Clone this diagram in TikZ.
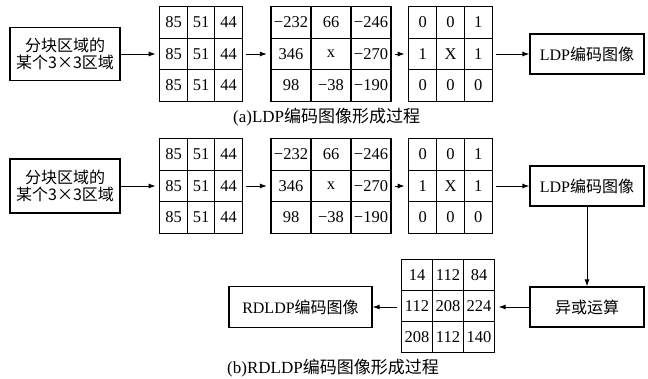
\documentclass[tikz,border=0pt]{standalone}
\usepackage{fontspec}
\setmainfont{Liberation Serif}
\newfontfamily\cjk{Noto Sans CJK SC}
\usetikzlibrary{matrix,arrows.meta}
\begin{document}
\begin{tikzpicture}[x=1pt,y=-1pt,
  box/.style={draw, line width=1.2pt, align=center, inner sep=1pt,
    font=\fontsize{16}{16.5}\selectfont},
  grid/.style={matrix of nodes, column sep=-1.1pt, row sep=-1.1pt,
    nodes={draw, line width=1.1pt, anchor=center, inner sep=0pt,
      font=\fontsize{16.5}{16.5}\selectfont}},
  arr/.style={-{Latex[length=7pt,width=5pt]}, line width=1pt},
  captext/.style={anchor=west, inner sep=0pt, font=\fontsize{17}{17}\selectfont}]
\useasboundingbox (0,0) rectangle (648,378);

% ---------- (a) ----------
\node[box, minimum width=110pt, minimum height=53pt] (srcA) at (65,54)
  {{\cjk 分块区域的}\\{\cjk 某个3×3区域}};
\matrix (m1A) at (201,54) [grid, nodes={minimum width=27.5pt, minimum height=31.5pt}] {
  85 & 51 & 44 \\
  85 & 51 & 44 \\
  85 & 51 & 44 \\};
\matrix (m2A) at (331,54) [grid, nodes={minimum width=40pt, minimum height=31.5pt}] {
  −232 & 66 & −246 \\
  346 & x & −270 \\
  98 & −38 & −190 \\};
\matrix (m3A) at (450.5,54) [grid, nodes={minimum width=27.8pt, minimum height=31.5pt}] {
  0 & 0 & 1 \\
  1 & X & 1 \\
  0 & 0 & 0 \\};
\node[box, minimum width=114pt, minimum height=40pt] (ldpA) at (587,54)
  {LDP{\cjk 编码图像}};
\draw[arr] (srcA) -- (m1A);
\draw[arr] (m1A) -- (m2A);
\draw[arr] (m2A) -- (m3A);
\draw[arr] (m3A) -- (ldpA);
\node[captext] (capA) at (233,117) {(a)LDP{\cjk 编码图像形成过程}};

% ---------- (b) ----------
\node[box, minimum width=110pt, minimum height=54pt] (srcB) at (65,186)
  {{\cjk 分块区域的}\\{\cjk 某个3×3区域}};
\matrix (m1B) at (201,186) [grid, nodes={minimum width=27.5pt, minimum height=31.5pt}] {
  85 & 51 & 44 \\
  85 & 51 & 44 \\
  85 & 51 & 44 \\};
\matrix (m2B) at (331,186) [grid, nodes={minimum width=40pt, minimum height=31.5pt}] {
  −232 & 66 & −246 \\
  346 & x & −270 \\
  98 & −38 & −190 \\};
\matrix (m3B) at (450.5,186) [grid, nodes={minimum width=27.8pt, minimum height=31.5pt}] {
  0 & 0 & 1 \\
  1 & X & 1 \\
  0 & 0 & 0 \\};
\node[box, minimum width=114pt, minimum height=40pt] (ldpB) at (587,186)
  {LDP{\cjk 编码图像}};
\node[box, minimum width=114pt, minimum height=40pt] (xor) at (587,307)
  {{\cjk 异或运算}};
\matrix (m4) at (448,306) [grid, nodes={minimum width=31pt, minimum height=31pt}] {
  14 & 112 & 84 \\
  112 & 208 & 224 \\
  208 & 112 & 140 \\};
\node[box, minimum width=143pt, minimum height=41pt] (rd) at (300.5,307)
  {RDLDP{\cjk 编码图像}};
\draw[arr] (srcB) -- (m1B);
\draw[arr] (m1B) -- (m2B);
\draw[arr] (m2B) -- (m3B);
\draw[arr] (m3B) -- (ldpB);
\draw[arr] (ldpB) -- (xor);
\draw[arr] (xor.west) -- (m4.east |- xor.west);
\draw[arr] (m4.west |- rd.east) -- (rd.east);
\node[captext] (capB) at (227,368) {(b)RDLDP{\cjk 编码图像形成过程}};
\end{tikzpicture}
\end{document}
